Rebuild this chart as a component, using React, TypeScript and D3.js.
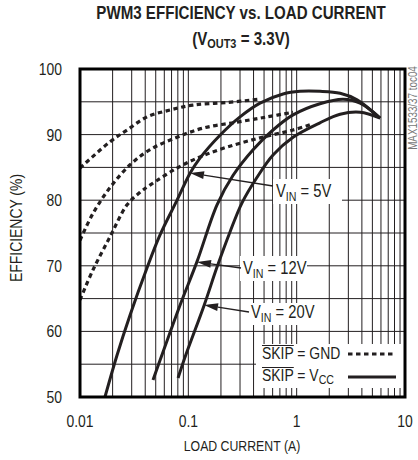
import React from 'react';
import * as d3 from 'd3';

// ---------- data ----------
const xTickValues = [0.01, 0.1, 1, 10];
const xTickLabels = ['0.01', '0.1', '1', '10'];
const yTickValues = [50, 60, 70, 80, 90, 100];

// SKIP = GND (dashed)
const gnd5I = [0.01, 0.0189, 0.0272, 0.0416, 0.0678, 0.11, 0.228, 0.459];
const gnd5E = [84.9, 88.9, 90.7, 92.7, 93.75, 94.5, 94.9, 95.4];
const gnd12I = [0.01, 0.0132, 0.0189, 0.029, 0.0443, 0.0787, 0.137, 0.282, 0.533, 0.926];
const gnd12E = [73.9, 78.0, 81.9, 85.4, 87.7, 89.6, 91.0, 91.9, 92.7, 93.4];
const gnd20I = [0.01, 0.0132, 0.0189, 0.0272, 0.0358, 0.0443, 0.0787, 0.128, 0.228, 0.459, 0.926, 1.33];
const gnd20E = [64.8, 69.4, 74.4, 79.3, 81.2, 82.3, 84.9, 86.6, 88.1, 89.5, 90.7, 91.5];

// SKIP = VCC (solid)
const vcc5I = [0.017, 0.022, 0.029, 0.0416, 0.0548, 0.0787, 0.1037, 0.128, 0.196, 0.3, 0.459, 0.749, 1.074, 1.64, 2.52, 3.61, 5.89];
const vcc5E = [50, 56.4, 62.5, 69.7, 74.7, 80.0, 84.1, 86.4, 89.9, 92.7, 94.8, 96.2, 96.6, 96.6, 96.3, 95.3, 92.5];
const vcc12I = [0.0472, 0.0548, 0.0838, 0.12, 0.184, 0.259, 0.396, 0.605, 0.926, 1.64, 2.68, 3.85, 5.89];
const vcc12E = [52.6, 55.6, 64.0, 70.6, 79.3, 83.8, 87.7, 90.7, 93.0, 94.7, 95.4, 94.8, 92.5];
const vcc20I = [0.0804, 0.0933, 0.14, 0.184, 0.243, 0.313, 0.431, 0.605, 0.926, 1.64, 2.52, 3.85, 5.89];
const vcc20E = [52.9, 56.1, 64.0, 69.8, 75.2, 79.6, 83.5, 86.9, 89.6, 91.8, 93.1, 93.4, 92.5];

const FONT = "'Liberation Sans', Arial, Helvetica, sans-serif";
const NARROW = 0.82;
const INK = '#231f20';

const W = 418, H = 460;
const L = 80, R = 405, T = 69, B = 397;

const x = d3.scaleLog().domain([0.01, 10]).range([L, R]);
const y = d3.scaleLinear().domain([50, 100]).range([B, T]);

const line = d3
  .line<[number, number]>()
  .x((d) => x(d[0]))
  .y((d) => y(d[1]))
  .curve(d3.curveCatmullRom.alpha(0.5));

const zip = (a: number[], b: number[]) => a.map((v, i) => [v, b[i]] as [number, number]);

const dashed = [zip(gnd5I, gnd5E), zip(gnd12I, gnd12E), zip(gnd20I, gnd20E)];
const solid = [zip(vcc5I, vcc5E), zip(vcc12I, vcc12E), zip(vcc20I, vcc20E)];

const minorX: number[] = [];
[0.01, 0.1, 1].forEach((d) => {
  for (let k = 1; k <= 9; k++) minorX.push(d * k);
});
const gridY = d3.range(55, 100, 5);

// narrow text: Liberation Sans squeezed horizontally, like the condensed face of the original
function NT({
  x: tx,
  y: ty,
  size,
  anchor = 'start',
  weight = 'normal',
  rotate = 0,
  fill = INK,
  sx = NARROW,
  children,
}: any) {
  return (
    <text
      transform={`translate(${tx},${ty}) rotate(${rotate}) scale(${sx},1)`}
      textAnchor={anchor}
      fontFamily={FONT}
      fontSize={size}
      fontWeight={weight}
      fill={fill}
    >
      {children}
    </text>
  );
}

function Arrow({ x1, y1, x2, y2 }: { x1: number; y1: number; x2: number; y2: number }) {
  const a = Math.atan2(y2 - y1, x2 - x1);
  const len = 14, hw = 4;
  const bx = x2 - len * Math.cos(a), by = y2 - len * Math.sin(a);
  const px = -Math.sin(a) * hw, py = Math.cos(a) * hw;
  return (
    <g>
      <line x1={x1} y1={y1} x2={bx} y2={by} stroke={INK} strokeWidth={1.3} />
      <polygon points={`${x2},${y2} ${bx + px},${by + py} ${bx - px},${by - py}`} fill={INK} />
    </g>
  );
}

function VinLabel({ tx, ty, v }: { tx: number; ty: number; v: string }) {
  return (
    <NT x={tx} y={ty} size={18}>
      V
      <tspan fontSize={13} dy={4}>IN</tspan>
      <tspan dy={-4}>{` = ${v}`}</tspan>
    </NT>
  );
}

export default function App() {
  const skipW = 2.279 * 17 * NARROW;
  return (
    <svg
      width={W}
      height={H}
      viewBox={`0 0 ${W} ${H}`}
      style={{ position: 'absolute', left: 0, top: 0, background: '#fff' }}
    >
      <rect x={0} y={0} width={W} height={H} fill="#fff" />
      <defs>
        <clipPath id="plot">
          <rect x={L} y={T} width={R - L} height={B - T} />
        </clipPath>
      </defs>

      {/* title */}
      <NT x={241} y={19} size={18} weight="bold" anchor="middle" sx={0.84}>
        PWM3 EFFICIENCY vs. LOAD CURRENT
      </NT>
      <NT x={241} y={45} size={18} weight="bold" anchor="middle" sx={0.84}>
        (V<tspan fontSize={13} dy={3}>OUT3</tspan>
        <tspan dy={-3}> = 3.3V)</tspan>
      </NT>

      {/* grid */}
      <g stroke={INK} strokeWidth={1}>
        {minorX.map((v) => (
          <line key={'gx' + v} x1={x(v)} x2={x(v)} y1={T} y2={B} />
        ))}
        {gridY.map((v) => (
          <line key={'gy' + v} x1={L} x2={R} y1={y(v)} y2={y(v)} />
        ))}
      </g>

      {/* label backgrounds */}
      <rect x={273} y={179} width={69} height={25} fill="#fff" />
      <rect x={240} y={256} width={67} height={25} fill="#fff" />
      <rect x={248} y={303} width={67} height={22} fill="#fff" />
      <rect x={256} y={344} width={148} height={44} fill="#fff" />

      {/* curves */}
      <g clipPath="url(#plot)" fill="none" stroke={INK}>
        {dashed.map((d, i) => (
          <path key={'d' + i} d={line(d) || ''} strokeWidth={3.2} strokeDasharray="4.5 3.5" />
        ))}
        {solid.map((d, i) => (
          <path key={'s' + i} d={line(d) || ''} strokeWidth={3} strokeLinejoin="round" />
        ))}
      </g>

      {/* frame */}
      <rect x={L} y={T} width={R - L} height={B - T} fill="none" stroke="#000" strokeWidth={3} />

      {/* annotations */}
      <Arrow x1={273} y1={186} x2={190} y2={173} />
      <VinLabel tx={276} ty={197} v="5V" />
      <Arrow x1={241} y1={268} x2={197} y2={262} />
      <VinLabel tx={243} ty={274} v="12V" />
      <Arrow x1={249} y1={312} x2={204} y2={305} />
      <VinLabel tx={251} ty={318} v="20V" />

      {/* legend */}
      <NT x={262} y={359} size={17}>SKIP = GND</NT>
      <line x1={262} x2={262 + skipW} y1={345.5} y2={345.5} stroke={INK} strokeWidth={1} />
      <NT x={262} y={381} size={17}>
        SKIP = V<tspan fontSize={13} dy={3}>CC</tspan>
      </NT>
      <line x1={262} x2={262 + skipW} y1={367.5} y2={367.5} stroke={INK} strokeWidth={1} />
      <line x1={348} x2={396} y1={354} y2={354} stroke={INK} strokeWidth={3.2} strokeDasharray="4.5 3.5" />
      <line x1={348} x2={396} y1={377} y2={377} stroke={INK} strokeWidth={3} />

      {/* axes tick labels */}
      {yTickValues.map((v) => (
        <NT key={'yt' + v} x={62} y={y(v) + 6} size={17} anchor="end">
          {v}
        </NT>
      ))}
      {xTickValues.map((v, i) => (
        <NT key={'xt' + v} x={x(v)} y={427} size={17} anchor="middle">
          {xTickLabels[i]}
        </NT>
      ))}
      <NT x={242} y={451} size={15} anchor="middle">
        LOAD CURRENT (A)
      </NT>
      <NT x={22} y={228} size={17} anchor="middle" rotate={-90}>
        EFFICIENCY (%)
      </NT>

      <NT x={417} y={108} size={12} anchor="middle" rotate={-90} fill="#777">
        MAX1533/37 toc04
      </NT>
    </svg>
  );
}
